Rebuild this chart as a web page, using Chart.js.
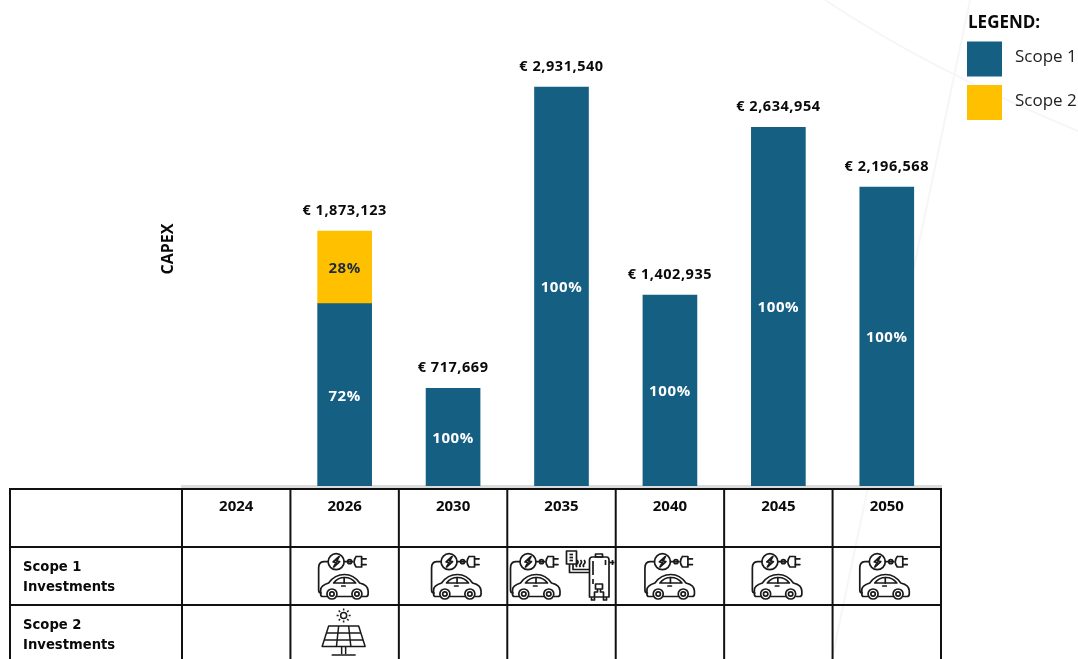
<!DOCTYPE html>
<html>
<head>
<meta charset="utf-8">
<style>
  html, body { margin: 0; padding: 0; background: #fff; overflow: hidden; }
  canvas { display: block; }
</style>
<script src="https://cdn.jsdelivr.net/npm/chart.js@4/dist/chart.umd.js"></script>
</head>
<body>
<canvas id="chart-canvas" width="1078" height="659"></canvas>
<script>
const years = ['2024', '2026', '2030', '2035', '2040', '2045', '2050'];
const scope1 = [null, 1339400, 717669, 2931540, 1402935, 2634954, 2196568];
const scope2 = [null, 533723, null, null, null, null, null];
const rowNames = [['Scope 1', 'Investments'], ['Scope 2', 'Investments']];

const blue = '#156082';
const yellow = '#FFC000';
const ink = '#0a0a0a';
const sans = '"Open Sans", sans-serif';

function line(ctx, pts) {
    ctx.beginPath();
    pts.forEach((p, i) => i ? ctx.lineTo(p[0], p[1]) : ctx.moveTo(p[0], p[1]));
    ctx.stroke();
}

// x = centre of the car, y = top of the table row
function drawCar(ctx, x, y) {
    ctx.save();
    ctx.translate(x, y);
    ctx.lineWidth = 1.7;
    ctx.strokeStyle = '#1a1a1a';
    ctx.lineJoin = 'round';
    ctx.lineCap = 'round';
    // charger
    ctx.beginPath();
    ctx.arc(-7.5, 14.7, 8, 0, Math.PI * 2);
    ctx.stroke();
    ctx.beginPath();
    ctx.moveTo(-4.5, 9.5);
    ctx.lineTo(-10.5, 15);
    ctx.lineTo(-7.5, 15.5);
    ctx.lineTo(-10, 20);
    ctx.lineTo(-4, 14.5);
    ctx.lineTo(-7, 14);
    ctx.closePath();
    ctx.stroke();
    // plug
    line(ctx, [[0.5, 14.7], [9, 14.7]]);
    ctx.beginPath();
    ctx.arc(6, 14.7, 2, 0, Math.PI * 2);
    ctx.stroke();
    ctx.beginPath();
    ctx.moveTo(12.5, 9.5);
    ctx.lineTo(18, 9.5);
    ctx.lineTo(18, 20);
    ctx.lineTo(12.5, 20);
    ctx.quadraticCurveTo(8.5, 14.7, 12.5, 9.5);
    ctx.stroke();
    line(ctx, [[18, 11.8], [22.5, 11.8]]);
    line(ctx, [[18, 17.6], [22.5, 17.6]]);
    // wire down to the car
    ctx.beginPath();
    ctx.moveTo(-15.5, 14.7);
    ctx.lineTo(-20, 14.7);
    ctx.quadraticCurveTo(-25, 15, -25, 21);
    ctx.lineTo(-25, 43);
    ctx.quadraticCurveTo(-25, 46, -22.5, 46);
    ctx.stroke();
    // body
    ctx.beginPath();
    ctx.moveTo(-17, 49.5);
    ctx.lineTo(-21, 49.5);
    ctx.quadraticCurveTo(-23, 49.5, -23, 47);
    ctx.lineTo(-23, 43);
    ctx.quadraticCurveTo(-23, 38.5, -15, 36);
    ctx.quadraticCurveTo(-9, 27.5, 1, 27.5);
    ctx.quadraticCurveTo(10, 27.5, 16, 36);
    ctx.quadraticCurveTo(24.5, 38, 24.5, 44);
    ctx.lineTo(24.5, 47);
    ctx.quadraticCurveTo(24.5, 49.5, 22, 49.5);
    ctx.lineTo(19, 49.5);
    ctx.stroke();
    line(ctx, [[-6.5, 49.5], [8, 49.5]]);
    // windows
    ctx.beginPath();
    ctx.moveTo(-10, 36);
    ctx.quadraticCurveTo(-6, 30.5, 1, 30.5);
    ctx.quadraticCurveTo(8, 30.5, 12, 36);
    ctx.closePath();
    ctx.stroke();
    line(ctx, [[0.5, 30.5], [0.5, 36]]);
    line(ctx, [[-2, 39], [1.5, 39]]);
    // wheels
    [-11.7, 13.3].forEach(w => {
        ctx.beginPath();
        ctx.arc(w, 47, 5, 0, Math.PI * 2);
        ctx.fillStyle = '#fff';
        ctx.fill();
        ctx.stroke();
        ctx.beginPath();
        ctx.arc(w, 47, 2.2, 0, Math.PI * 2);
        ctx.stroke();
    });
    ctx.restore();
}

function drawHeater(ctx, x, y) {
    ctx.save();
    ctx.translate(x, y);
    ctx.lineWidth = 1.7;
    ctx.strokeStyle = '#1a1a1a';
    ctx.lineJoin = 'round';
    // thermostat
    ctx.strokeRect(5, 4, 10, 13);
    line(ctx, [[8, 7.5], [11.5, 7.5]]);
    line(ctx, [[8, 10.5], [11.5, 10.5]]);
    line(ctx, [[8, 13.5], [11.5, 13.5]]);
    // pipes
    line(ctx, [[8, 17], [8, 25.5], [28, 25.5]]);
    line(ctx, [[11.5, 17], [11.5, 22.5], [28, 22.5]]);
    // steam
    [15.5, 19, 22.5].forEach(s => {
        ctx.beginPath();
        ctx.moveTo(s, 13);
        ctx.quadraticCurveTo(s + 2, 15, s, 17);
        ctx.quadraticCurveTo(s - 1.5, 18.5, s, 20);
        ctx.stroke();
    });
    // tank
    ctx.beginPath();
    ctx.moveTo(28, 13);
    ctx.quadraticCurveTo(28, 10, 31, 10);
    ctx.lineTo(45, 10);
    ctx.quadraticCurveTo(47.5, 10, 47.5, 13);
    ctx.lineTo(47.5, 50);
    ctx.lineTo(28, 50);
    ctx.closePath();
    ctx.stroke();
    ctx.strokeRect(34, 7, 7, 3);
    line(ctx, [[31.5, 14], [31.5, 28]]);
    line(ctx, [[31.5, 32], [31.5, 37]]);
    // side valve
    line(ctx, [[47.5, 15.5], [53, 15.5]]);
    line(ctx, [[51, 13], [51, 18]]);
    line(ctx, [[44, 13], [44, 18]]);
    // burner and feet
    ctx.strokeRect(34, 37, 7, 5);
    line(ctx, [[36, 42], [36, 45], [33, 45], [33, 50]]);
    line(ctx, [[39, 42], [39, 45], [42, 45], [42, 50]]);
    line(ctx, [[30, 50], [30, 53], [33, 53], [33, 50]]);
    line(ctx, [[42, 50], [42, 53], [45, 53], [45, 50]]);
    ctx.restore();
}

function drawSolar(ctx, x, y) {
    ctx.save();
    ctx.translate(x, y);
    ctx.lineWidth = 1.5;
    ctx.strokeStyle = '#1a1a1a';
    ctx.lineJoin = 'round';
    // sun
    ctx.beginPath();
    ctx.arc(0, 10.5, 3, 0, Math.PI * 2);
    ctx.stroke();
    for (let a = 0; a < 8; a++) {
        const r = a * Math.PI / 4;
        line(ctx, [[Math.cos(r) * 5, 10.5 + Math.sin(r) * 5], [Math.cos(r) * 7, 10.5 + Math.sin(r) * 7]]);
    }
    // panel
    ctx.beginPath();
    ctx.moveTo(-15, 21);
    ctx.lineTo(15, 21);
    ctx.lineTo(21.5, 41.5);
    ctx.lineTo(-21.5, 41.5);
    ctx.closePath();
    ctx.stroke();
    line(ctx, [[-17.2, 28], [17.2, 28]]);
    line(ctx, [[-19.4, 35], [19.4, 35]]);
    line(ctx, [[-5, 21], [-7.2, 41.5]]);
    line(ctx, [[5, 21], [7.2, 41.5]]);
    // stand
    line(ctx, [[-2, 41.5], [-2, 49]]);
    line(ctx, [[2, 41.5], [2, 49]]);
    line(ctx, [[-12, 50], [12, 50]]);
    ctx.restore();
}

const backdrop = {
    id: 'backdrop',
    beforeDraw(chart) {
        const ctx = chart.ctx;
        ctx.save();
        ctx.strokeStyle = '#f6f6f6';
        ctx.lineWidth = 2;
        ctx.beginPath();
        ctx.moveTo(825, 0);
        ctx.quadraticCurveTo(930, 70, 1078, 131);
        ctx.stroke();
        line(ctx, [[970, 0], [832, 659]]);
        ctx.restore();
    }
};

const barLabels = {
    id: 'barLabels',
    afterDatasetsDraw(chart) {
        const ctx = chart.ctx;
        const first = chart.getDatasetMeta(0).data;
        const second = chart.getDatasetMeta(1).data;
        ctx.save();
        ctx.textAlign = 'center';
        ctx.textBaseline = 'middle';
        years.forEach((year, i) => {
            if (scope1[i] === null) return;
            const total = scope1[i] + (scope2[i] || 0);
            const topBar = scope2[i] ? second[i] : first[i];
            ctx.letterSpacing = '0.55px';
            ctx.font = 'bold 14.5px ' + sans;
            ctx.fillStyle = ink;
            ctx.fillText('€ ' + total.toLocaleString('en-US'), topBar.x, topBar.y - 20);
            ctx.letterSpacing = '0.6px';
            ctx.font = 'bold 15px ' + sans;
            ctx.fillStyle = '#ffffff';
            ctx.fillText(Math.round(scope1[i] / total * 100) + '%', first[i].x, (first[i].y + first[i].base) / 2 + 1.5);
            if (scope2[i]) {
                ctx.fillStyle = '#1d2b3a';
                ctx.fillText(Math.round(scope2[i] / total * 100) + '%', second[i].x, (second[i].y + second[i].base) / 2 + 1.5);
            }
        });
        ctx.restore();
    }
};

const investTable = {
    id: 'investTable',
    afterDraw(chart) {
        const ctx = chart.ctx;
        const xs = chart.scales.x;
        const step = (xs.right - xs.left) / years.length;
        const rows = [489, 547, 605];
        ctx.save();
        ctx.strokeStyle = '#111';
        ctx.lineWidth = 2;
        rows.forEach(y => line(ctx, [[10, y], [xs.right, y]]));
        line(ctx, [[10, rows[0] - 1], [10, 659]]);
        for (let i = 0; i <= years.length; i++) {
            const x = xs.left + i * step;
            line(ctx, [[x, rows[0] - 1], [x, 659]]);
        }
        ctx.fillStyle = ink;
        ctx.textAlign = 'left';
        ctx.textBaseline = 'middle';
        ctx.font = 'bold 13.2px "DejaVu Sans", sans-serif';
        rowNames.forEach((name, r) => {
            ctx.fillText(name[0], 23, rows[r + 1] + 20.5);
            ctx.fillText(name[1], 23, rows[r + 1] + 40.5);
        });
        // icons are not centred the same way in every cell
        const carShift = { '2026': -1, '2030': 3.5, '2035': -26, '2040': 0, '2045': -1, '2050': -2 };
        Object.keys(carShift).forEach(year => {
            drawCar(ctx, xs.getPixelForValue(years.indexOf(year)) + carShift[year], rows[1]);
        });
        drawHeater(ctx, xs.getPixelForValue(years.indexOf('2035')), rows[1]);
        drawSolar(ctx, xs.getPixelForValue(years.indexOf('2026')) - 1, rows[2]);
        ctx.restore();
    }
};

const legendBox = {
    id: 'legendBox',
    afterDraw(chart) {
        const ctx = chart.ctx;
        ctx.save();
        ctx.textAlign = 'left';
        ctx.textBaseline = 'middle';
        ctx.fillStyle = ink;
        ctx.font = 'bold 17px ' + sans;
        ctx.fillText('LEGEND:', 968, 23);
        chart.data.datasets.forEach((ds, i) => {
            const y = 41.5 + i * 43.5;
            ctx.fillStyle = ds.backgroundColor;
            ctx.fillRect(967, y, 35, 35);
            ctx.fillStyle = '#222';
            ctx.font = '17px ' + sans;
            ctx.fillText(ds.label, 1015, y + 15.5 + i);
        });
        ctx.restore();
    }
};

new Chart(document.getElementById('chart-canvas'), {
    type: 'bar',
    data: {
        labels: years,
        datasets: [
            { label: 'Scope 1', data: scope1, backgroundColor: blue, barThickness: 54 },
            { label: 'Scope 2', data: scope2, backgroundColor: yellow, barThickness: 54 }
        ]
    },
    plugins: [backdrop, barLabels, investTable, legendBox],
    options: {
        responsive: false,
        animation: false,
        layout: { padding: { left: 159, right: 137, top: 12, bottom: 0 } },
        plugins: { legend: { display: false }, tooltip: { enabled: false } },
        scales: {
            x: {
                stacked: true,
                afterFit(scale) { scale.height = 173; },
                grid: { display: false },
                border: { color: '#dcdcdc', width: 3 },
                ticks: { color: ink, font: { family: sans, size: 15, weight: 'bold' }, padding: 4, maxRotation: 0, autoSkip: false }
            },
            y: {
                stacked: true,
                min: 0,
                max: 3482600,
                afterFit(scale) { scale.width = 23; },
                grid: { display: false },
                border: { display: false },
                ticks: { display: false },
                title: { display: true, text: 'CAPEX', color: ink, font: { family: sans, size: 16, weight: 'bold' }, padding: 0 }
            }
        }
    }
});
</script>
</body>
</html>
